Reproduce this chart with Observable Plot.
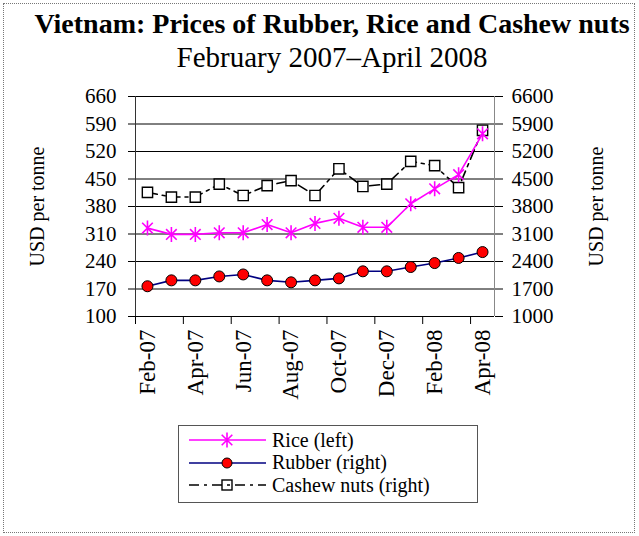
<!DOCTYPE html>
<html><head><meta charset="utf-8">
<script src="https://cdn.jsdelivr.net/npm/d3@7"></script>
<script src="https://cdn.jsdelivr.net/npm/@observablehq/plot@0.6"></script>
<style>
body{margin:0;background:#fff;}
#wrap{position:relative;width:639px;height:536px;font-family:"Liberation Serif","Times New Roman","DejaVu Serif",serif;color:#000;overflow:hidden;}
#wrap *{font-family:"Liberation Serif","Times New Roman","DejaVu Serif",serif;}
#frame{position:absolute;left:3px;top:3px;width:632px;height:530px;border:1px dotted #777;box-sizing:border-box;}
#title{position:absolute;left:0;width:664px;top:9px;text-align:center;font-weight:bold;font-size:28px;line-height:30px;white-space:nowrap;}
#subtitle{position:absolute;left:0;width:664px;top:41px;text-align:center;font-size:29px;line-height:32px;white-space:nowrap;}
#chart{position:absolute;left:0;top:80px;}
#legend{position:absolute;left:178px;top:425px;width:300px;height:78px;border:1.5px solid #555;box-sizing:border-box;background:#fff;}
.item{position:absolute;left:8px;height:22px;display:flex;align-items:center;font-size:20px;white-space:nowrap;}
.item svg{margin-right:5px;}
</style></head>
<body>
<div id="wrap">
  <div id="frame"></div>
  <div id="title">Vietnam: Prices of Rubber, Rice and Cashew nuts</div>
  <div id="subtitle">February 2007–April 2008</div>
  <div id="chart"></div>
  <div id="legend"></div>
</div>
<script>
// ---- data ----
const months = ["Feb-07","Mar-07","Apr-07","May-07","Jun-07","Jul-07","Aug-07","Sep-07","Oct-07","Nov-07","Dec-07","Jan-08","Feb-08","Mar-08","Apr-08"];
const rice = [325, 309, 309, 313, 313, 334, 313, 337, 350, 327, 327, 387, 425, 461, 565];        // left axis
const rubber = [1770, 1920, 1920, 2020, 2070, 1920, 1870, 1920, 1970, 2150, 2150, 2260, 2360, 2490, 2640]; // right axis
const cashew = [4160, 4040, 4040, 4370, 4080, 4330, 4460, 4080, 4760, 4310, 4370, 4950, 4840, 4280, 5740]; // right axis
const leftTicks = [100, 170, 240, 310, 380, 450, 520, 590, 660];
const rightTicks = [1000, 1700, 2400, 3100, 3800, 4500, 5200, 5900, 6600];
const seriesNames = ["Rice (left)", "Rubber (right)", "Cashew nuts (right)"];

const table = months.map((m, i) => ({i, month: m, rice: rice[i], rubber: rubber[i], cashew: cashew[i]}));
const ratio = 10; // right axis = left axis * 10

const FONT = '"Liberation Serif","Times New Roman","DejaVu Serif",serif';

const star = {draw(ctx, size){ const r = Math.sqrt(size/Math.PI); const d = r*Math.SQRT1_2;
  ctx.moveTo(0,-r); ctx.lineTo(0,r); ctx.moveTo(-d,-d); ctx.lineTo(d,d); ctx.moveTo(-d,d); ctx.lineTo(d,-d);}};

const boundaries = d3.range(-0.5, months.length, 2);
const labelIdx = d3.range(0, months.length, 2);

const chart = Plot.plot({
  width: 639, height: 340,
  marginLeft: 135, marginRight: 145, marginTop: 16, marginBottom: 104,
  style: {fontFamily: FONT, color: "#000", background: "transparent"},
  x: {type: "linear", domain: [-0.5, months.length - 0.5]},
  y: {type: "linear", domain: [100, 660]},
  marks: [
    Plot.gridY(leftTicks, {stroke: "#000", strokeOpacity: 1, strokeWidth: 1}),
    Plot.ruleX([-0.5], {stroke: "#333", strokeWidth: 1}),
    Plot.ruleX([months.length - 0.5], {stroke: "#888", strokeWidth: 1}),
    Plot.ruleY([100], {stroke: "#000", strokeWidth: 1}),
    Plot.axisY({anchor: "left", ticks: leftTicks, tickSize: 7, tickPadding: 12, fontSize: 21, fontFamily: FONT, label: null}),
    Plot.axisY({anchor: "right", ticks: rightTicks.map(v => v / ratio), tickFormat: d => d3.format("d")(Math.round(d * ratio)), tickSize: 8, tickPadding: 9, fontSize: 21, fontFamily: FONT, label: null}),
    Plot.axisX({ticks: boundaries, tickSize: 8, tickFormat: () => "", label: null}),
    Plot.axisX({ticks: labelIdx, tickSize: 0, tickPadding: 13, tickRotate: -90, tickFormat: i => months[i], fontSize: 23, fontFamily: FONT, label: null}),
    Plot.text(["USD per tonne"], {frameAnchor: "left", dx: -98, rotate: -90, textAnchor: "middle", fontSize: 20, fontFamily: FONT}),
    Plot.text(["USD per tonne"], {frameAnchor: "right", dx: 102, rotate: -90, textAnchor: "middle", fontSize: 20, fontFamily: FONT}),
    // Cashew nuts (right axis)
    Plot.line(table, {x: "i", y: d => d.cashew / ratio, stroke: "#000", strokeWidth: 1.6, strokeDasharray: "10,5,3,5"}),
    Plot.dot(table, {x: "i", y: d => d.cashew / ratio, symbol: "square", r: 5.8, fill: "#fff", stroke: "#000", strokeWidth: 1.4}),
    // Rubber (right axis)
    Plot.line(table, {x: "i", y: d => d.rubber / ratio, stroke: "#000080", strokeWidth: 1.6}),
    Plot.dot(table, {x: "i", y: d => d.rubber / ratio, r: 5.5, fill: "#ff0000", stroke: "#000", strokeWidth: 1}),
    // Rice (left axis)
    Plot.line(table, {x: "i", y: "rice", stroke: "#ff00ff", strokeWidth: 1.6}),
    Plot.dot(table, {x: "i", y: "rice", symbol: star, r: 7.5, fill: "none", stroke: "#ff00ff", strokeWidth: 1.6})
  ]
});
document.getElementById("chart").appendChild(chart);

// ---- legend ----
const legend = d3.select("#legend");
const styles = [
  {stroke: "#ff00ff", dash: null, marker: "star"},
  {stroke: "#000080", dash: null, marker: "circle"},
  {stroke: "#000", dash: "10,5,3,5", marker: "square"}
];
seriesNames.forEach((name, k) => {
  const st = styles[k];
  const item = legend.append("div").attr("class", "item").style("top", (3 + k * 22.5) + "px");
  const svg = item.append("svg").attr("width", 80).attr("height", 22);
  svg.append("line").attr("x1", 2).attr("x2", 79).attr("y1", 11).attr("y2", 11)
    .attr("stroke", st.stroke).attr("stroke-width", 1.6).attr("stroke-dasharray", st.dash);
  if (st.marker === "star") {
    svg.append("path").attr("transform", "translate(40,11)")
      .attr("d", d3.symbol(star, Math.PI * 7.5 * 7.5)()).attr("fill", "none").attr("stroke", st.stroke).attr("stroke-width", 1.6);
  } else if (st.marker === "circle") {
    svg.append("circle").attr("cx", 40).attr("cy", 11).attr("r", 5).attr("fill", "#ff0000").attr("stroke", "#000");
  } else {
    svg.append("rect").attr("x", 35).attr("y", 6).attr("width", 10).attr("height", 10).attr("fill", "none").attr("stroke", "#000").attr("stroke-width", 1.4);
  }
  item.append("span").text(name);
});
</script>
</body></html>
